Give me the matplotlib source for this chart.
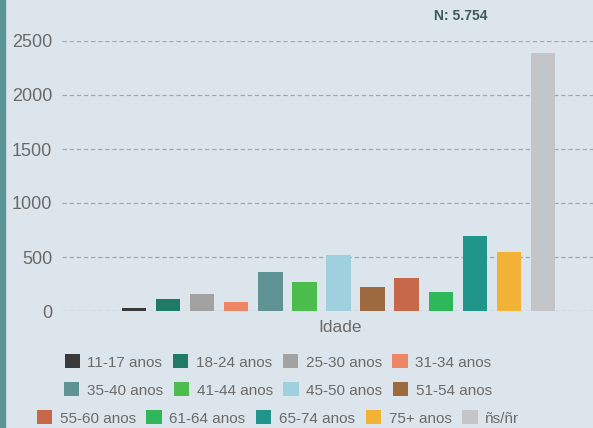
import matplotlib
matplotlib.use("Agg")
import matplotlib.pyplot as plt
from matplotlib.patches import Rectangle, Patch

plt.rcParams['font.family'] = ['Liberation Sans', 'DejaVu Sans']

# Respondents per age group
categories = ["11-17 anos", "18-24 anos", "25-30 anos", "31-34 anos",
              "35-40 anos", "41-44 anos", "45-50 anos", "51-54 anos",
              "55-60 anos", "61-64 anos", "65-74 anos", "75+ anos", "ñs/ñr"]
values = [25, 111, 155, 83, 361, 268, 518, 219, 303, 179, 691, 546, 2386]
colors = ["#3a3a3a", "#1f7a66", "#a2a2a2", "#ee8565", "#5f9394", "#4cbd4c",
          "#9fd0de", "#9c6a3e", "#c8684a", "#2eb85a", "#1f9689", "#f2b236",
          "#c3c5c7"]
y_ticks = [0, 500, 1000, 1500, 2000, 2500]
group_label = "Idade"
total_label = "N: 5.754"

bg = "#dce5ec"
text_grey = "#6a6a6a"
fig = plt.figure(figsize=(5.93, 4.28), dpi=100, facecolor=bg)
# axes run past the right edge of the figure
ax = fig.add_axes([62 / 593, (428 - 311) / 428, 553 / 593, 270 / 428])
ax.set_facecolor(bg)

n = len(values)
slot = 0.8 / n
bar_w = slot * 0.71
for i, (v, c) in enumerate(zip(values, colors)):
    x = -0.4 + slot * (i + 0.5)
    ax.bar(x, v, width=bar_w, color=c, zorder=3)

ax.set_xlim(-0.5, 0.5)
ax.set_ylim(0, 2500)
ax.set_yticks(y_ticks)
ax.set_yticklabels([str(t) for t in y_ticks], fontsize=13, color=text_grey)
ax.set_xticks([])
ax.tick_params(axis='y', length=0, pad=7)
for s in ax.spines.values():
    s.set_visible(False)
for t in y_ticks:
    ax.axhline(t, color="#a4a8ab", lw=0.9, ls=(0, (3.5, 2.2)), zorder=1)

fig.text(340 / 593, 1 - 327 / 428, group_label, ha="center", va="center",
         fontsize=12.5, color=text_grey)
fig.text(461 / 593, 1 - 16 / 428, total_label, ha="center", va="center",
         fontsize=10, fontweight="bold", color="#3f5a5a")

# left page border stripe
fig.patches.append(Rectangle((0, 0), 5 / 593, 1, transform=fig.transFigure,
                             color="#5a9494", zorder=10))

# legend in three rows (4, 4, 5 entries)
rows = [range(0, 4), range(4, 8), range(8, 13)]
row_y = [362, 390, 418]
for r, yy in zip(rows, row_y):
    handles = [Patch(facecolor=colors[i], edgecolor="none") for i in r]
    labels = [categories[i] for i in r]
    fig.legend(handles, labels, loc="center",
               bbox_to_anchor=(278 / 593, 1 - yy / 428),
               ncol=len(handles), frameon=False, fontsize=11,
               handlelength=1.0, handleheight=1.0, handletextpad=0.5,
               columnspacing=0.7, labelcolor=text_grey)

fig.savefig("out.png", dpi=100, facecolor=bg)
